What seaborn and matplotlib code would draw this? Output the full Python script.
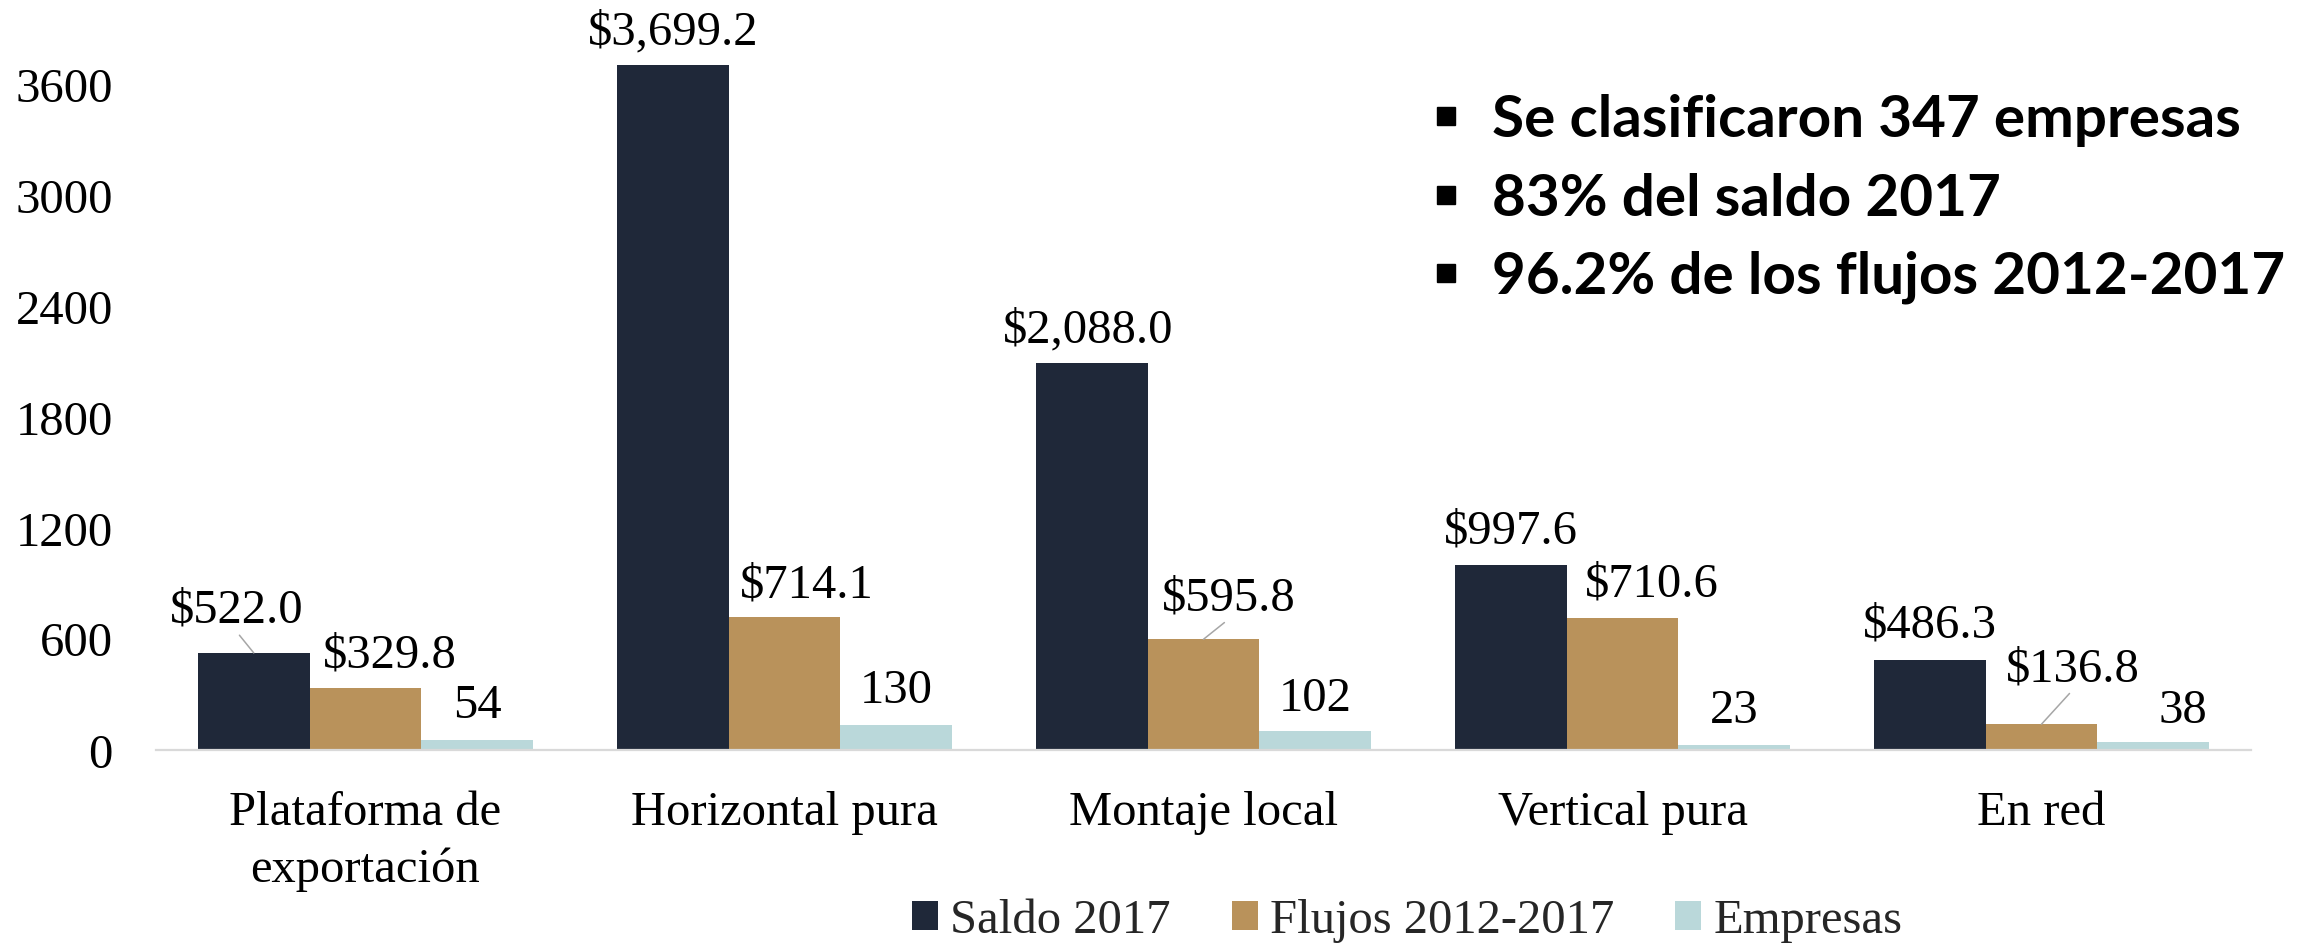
import matplotlib
matplotlib.use('Agg')
import matplotlib.pyplot as plt
from matplotlib.lines import Line2D
import pandas as pd
import seaborn as sns

# Data
categorias = ['Plataforma de\nexportación', 'Horizontal pura', 'Montaje local',
              'Vertical pura', 'En red']
series = ['Saldo 2017', 'Flujos 2012-2017', 'Empresas']
saldo_2017 = [522.0, 3699.2, 2088.0, 997.6, 486.3]
flujos_2012_2017 = [329.8, 714.1, 595.8, 710.6, 136.8]
empresas = [54, 130, 102, 23, 38]
y_ticks = [0, 600, 1200, 1800, 2400, 3000, 3600]
notas = ['Se clasificaron 347 empresas', '83% del saldo 2017',
         '96.2% de los flujos 2012-2017']

colores = ['#1F2839', '#B9925B', '#BAD8DA']

# label placement (pixels from top of bar) and leader line flag
label_offsets = {
    'Saldo 2017': [(-17, 31, True), (0, 22, False), (-4, 22, False),
                   (0, 22, False), (0, 23, False)],
    'Flujos 2012-2017': [(24, 22, False), (22, 21, False), (25, 30, True),
                         (29, 23, False), (31, 44, True)],
    'Empresas': [(0, 23, False), (0, 23, False), (0, 21, False),
                 (0, 23, False), (30, 20, False)],
}

df = pd.DataFrame({
    'categoria': categorias * len(series),
    'serie': [s for s in series for _ in categorias],
    'valor': saldo_2017 + flujos_2012_2017 + empresas,
})
valores = {'Saldo 2017': saldo_2017, 'Flujos 2012-2017': flujos_2012_2017,
           'Empresas': empresas}

sns.set_theme(style='white')
plt.rcParams['font.family'] = ['Liberation Serif', 'DejaVu Serif']

W, H = 2300, 945
fig = plt.figure(figsize=(W / 100, H / 100), dpi=100)
ax = fig.add_axes([156 / W, 1 - 750.5 / H, 2095 / W, 740 / H])

sns.barplot(data=df, x='categoria', y='valor', hue='serie', palette=colores,
            saturation=1, width=0.8, gap=0, linewidth=0, errorbar=None, ax=ax)

ax.set_xlim(-0.5, 4.5)
ax.set_ylim(0, 4000)
ax.set_yticks(y_ticks)
ax.set_xlabel('')
ax.set_ylabel('')
sns.despine(ax=ax, left=True)
ax.spines['bottom'].set_color('#D9D9D9')
ax.spines['bottom'].set_linewidth(1.6)
ax.tick_params(axis='both', length=0, labelsize=35, colors='black')
ax.tick_params(axis='y', pad=31)
ax.tick_params(axis='x', pad=29.5)
for lbl in ax.get_xticklabels():
    lbl.set_linespacing(1.35)

# value labels
for serie, cont in zip(series, ax.containers):
    for bar, val, (dx, dy, leader) in zip(cont, valores[serie], label_offsets[serie]):
        x = bar.get_x() + bar.get_width() / 2
        y = bar.get_height()
        if serie == 'Empresas':
            txt = f'{val:d}'
        else:
            txt = f'${val:,.1f}'
        arrow = None
        if leader:
            arrow = dict(arrowstyle='-', color='#A6A6A6', lw=1.1,
                         shrinkA=0, shrinkB=0, relpos=(0.5, 0))
        ax.annotate(txt, xy=(x, y), xytext=(dx, dy), textcoords='offset pixels',
                    ha='center', va='baseline', fontsize=35, color='black',
                    arrowprops=arrow)

sns.move_legend(ax, 'lower left', bbox_to_anchor=(912 / W, 1.5 / H),
                bbox_transform=fig.transFigure, ncol=3, frameon=False,
                title=None, fontsize=35, handlelength=0.54, handleheight=0.54,
                handletextpad=0.25, columnspacing=1.25, borderpad=0,
                borderaxespad=0)

# bullet notes
centros = [117, 196, 274]
for nota, yc in zip(notas, centros):
    fig.add_artist(Line2D([1446 / W], [1 - yc / H], marker='s', markersize=13,
                          color='black', linestyle='none',
                          transform=fig.transFigure))
    fig.text(1492 / W, 1 - (yc + 20) / H, nota, family=['Lato', 'DejaVu Sans'],
             fontweight='bold', fontsize=42, ha='left', va='baseline',
             color='black')

fig.savefig('out.png', dpi=100)
